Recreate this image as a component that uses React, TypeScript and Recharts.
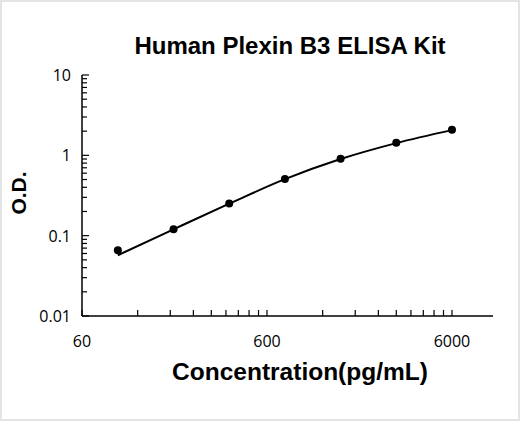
import React from 'react';
import { ComposedChart, Line, XAxis, YAxis } from 'recharts';

// Standard curve: concentration (pg/mL) vs optical density
const concentrations = [93.75, 187.5, 375, 750, 1500, 3000, 6000];
const odValues = [0.066, 0.12, 0.252, 0.508, 0.906, 1.43, 2.08];
const fitValues = [0.057, 0.12, 0.25, 0.505, 0.9, 1.42, 2.06];

// Log axis ticks (major ones get a label)
const xTicks = [
  60, 120, 180, 240, 300, 360, 420, 480, 540,
  600, 1200, 1800, 2400, 3000, 3600, 4200, 4800, 5400, 6000,
];
const xLabels = [60, 600, 6000];
const yTicks = [
  0.01, 0.02, 0.03, 0.04, 0.05, 0.06, 0.07, 0.08, 0.09,
  0.1, 0.2, 0.3, 0.4, 0.5, 0.6, 0.7, 0.8, 0.9,
  1, 2, 3, 4, 5, 6, 7, 8, 9, 10,
];
const yLabels = [0.01, 0.1, 1, 10];

const data = concentrations.map((c, i) => ({ conc: c, od: odValues[i], fit: fitValues[i] }));

const TICK_FONT = '"Open Sans", sans-serif';
const TITLE_FONT = '"Liberation Sans", Arial, sans-serif';

const XTick = (props: any) => {
  const { x, y, payload } = props;
  const major = xLabels.includes(payload.value);
  return (
    <g>
      <line x1={x} x2={x} y1={y} y2={y - 6} stroke="#000" strokeWidth={1.2} />
      {major && (
        <text x={x} y={y + 25} textAnchor="middle" dominantBaseline="central"
          fontFamily={TICK_FONT} fontSize={16} fill="#000">
          {payload.value}
        </text>
      )}
    </g>
  );
};

const YTick = (props: any) => {
  const { x, y, payload } = props;
  const major = yLabels.includes(payload.value);
  return (
    <g>
      <line x1={x} x2={x + (major ? 7 : 5)} y1={y} y2={y} stroke="#000" strokeWidth={1.2} />
      {major && (
        <text x={x - 11} y={y} textAnchor="end" dominantBaseline="central"
          fontFamily={TICK_FONT} fontSize={16} fill="#000">
          {String(payload.value)}
        </text>
      )}
    </g>
  );
};

const Dot = (props: any) => {
  const { cx, cy } = props;
  if (cx == null || cy == null) return null;
  return <circle cx={cx} cy={cy} r={4} fill="#000" />;
};

export default function App() {
  return (
    <div style={{ position: 'fixed', left: 0, top: 0, width: 520, height: 421, background: '#fff' }}>
      <ComposedChart
        width={520}
        height={421}
        data={data}
        margin={{ top: 75, right: 27, left: 22, bottom: 75 }}
      >
        <XAxis
          dataKey="conc"
          type="number"
          scale="log"
          domain={[60, 10000]}
          ticks={xTicks}
          interval={0}
          tickSize={0}
          tickMargin={0}
          tickLine={false}
          tick={<XTick />}
          height={30}
          axisLine={{ stroke: '#000', strokeWidth: 1.5 }}
          allowDataOverflow
        />
        <YAxis
          type="number"
          scale="log"
          domain={[0.01, 10]}
          ticks={yTicks}
          interval={0}
          tickSize={0}
          tickMargin={0}
          tickLine={false}
          tick={<YTick />}
          width={60}
          axisLine={{ stroke: '#000', strokeWidth: 1.5 }}
          allowDataOverflow
        />
        <Line
          type="monotone"
          dataKey="fit"
          stroke="#000"
          strokeWidth={2}
          dot={false}
          isAnimationActive={false}
        />
        <Line
          type="monotone"
          dataKey="od"
          stroke="none"
          dot={<Dot />}
          activeDot={false}
          isAnimationActive={false}
        />
      </ComposedChart>

      <div style={{
        position: 'absolute', left: 290, top: 46, transform: 'translate(-50%, -50%)',
        fontFamily: TITLE_FONT, fontWeight: 'bold', fontSize: 24, lineHeight: 1, whiteSpace: 'nowrap',
      }}>
        Human Plexin B3 ELISA Kit
      </div>
      <div style={{
        position: 'absolute', left: 300, top: 372, transform: 'translate(-50%, -50%)',
        fontFamily: TITLE_FONT, fontWeight: 'bold', fontSize: 24.5, lineHeight: 1, whiteSpace: 'nowrap',
      }}>
        Concentration(pg/mL)
      </div>
      <div style={{
        position: 'absolute', left: 18, top: 193, transform: 'translate(-50%, -50%) rotate(-90deg)',
        fontFamily: TITLE_FONT, fontWeight: 'bold', fontSize: 21, lineHeight: 1, whiteSpace: 'nowrap',
      }}>
        O.D.
      </div>
      <div style={{
        position: 'absolute', left: 0, top: 0, width: 520, height: 421, boxSizing: 'border-box',
        border: '2px solid #e4e4e4', pointerEvents: 'none',
      }} />
    </div>
  );
}
